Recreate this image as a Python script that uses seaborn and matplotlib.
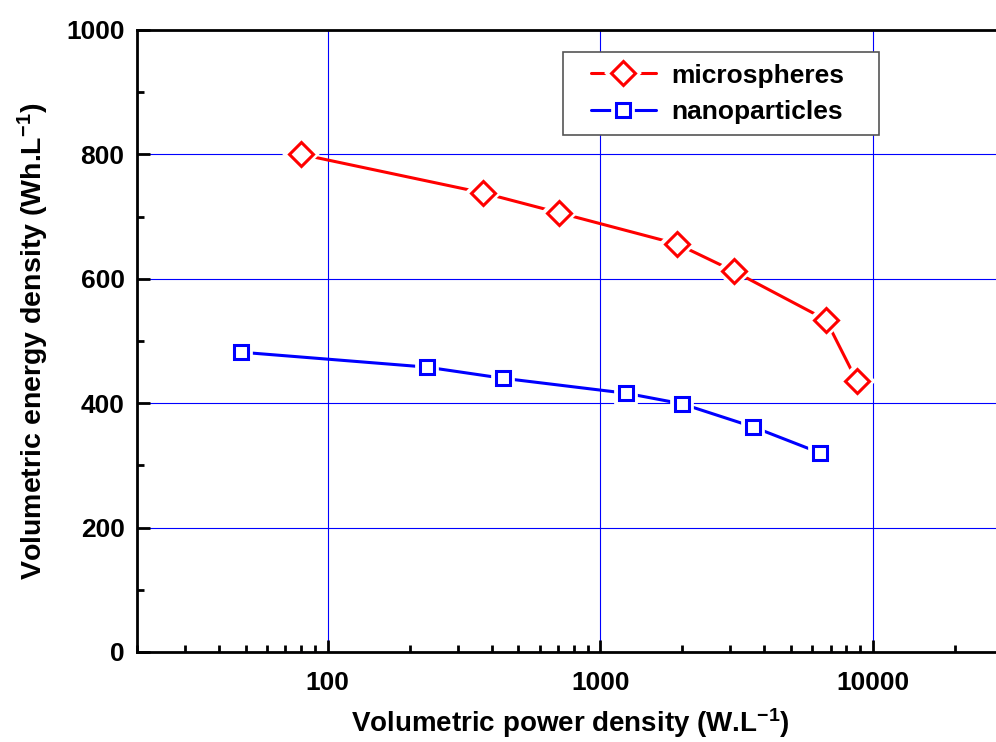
import numpy as np
import pandas as pd
import seaborn as sns
import matplotlib.pyplot as plt
from matplotlib.lines import Line2D
from matplotlib.legend_handler import HandlerTuple

# data
micro_power = [80, 373, 708, 1914, 3097, 6730, 8730]
micro_energy = [800, 738, 706, 656, 612, 534, 436]
nano_power = [48, 231, 441, 1245, 1995, 3630, 6400]
nano_energy = [482, 458, 440, 416, 399, 362, 320]
series_names = ['microspheres', 'nanoparticles']
y_ticks = [0, 200, 400, 600, 800, 1000]
x_ticks = [100, 1000, 10000]

sns.set_style('ticks')
plt.rcParams['font.family'] = ['Liberation Sans', 'DejaVu Sans']
plt.rcParams['font.weight'] = 'bold'
plt.rcParams['axes.labelweight'] = 'bold'
plt.rcParams['text.color'] = 'black'
plt.rcParams['axes.labelcolor'] = 'black'
plt.rcParams['xtick.color'] = 'black'
plt.rcParams['ytick.color'] = 'black'
plt.rcParams['mathtext.fontset'] = 'custom'
plt.rcParams['mathtext.rm'] = 'Liberation Sans:bold'
plt.rcParams['mathtext.default'] = 'rm'

df = pd.concat([
    pd.DataFrame({'power': micro_power, 'energy': micro_energy, 'sample': series_names[0]}),
    pd.DataFrame({'power': nano_power, 'energy': nano_energy, 'sample': series_names[1]}),
])

colors = {'microspheres': '#ff0000', 'nanoparticles': '#0000ff'}
marks = {'microspheres': 'D', 'nanoparticles': 's'}
msize = {'microspheres': 12, 'nanoparticles': 10}

fig = plt.figure(figsize=(9.96, 7.42), dpi=100)
ax = fig.add_axes([0.1376, 0.1213, 0.8694, 0.8383])

sns.lineplot(data=df, x='power', y='energy', hue='sample', palette=colors,
             linewidth=2.2, legend=False, ax=ax, zorder=3)

handles = []
for name in series_names:
    sub = df[df['sample'] == name]
    # white halo leaves a small gap between line and marker
    ax.plot(sub['power'], sub['energy'], ls='none', marker=marks[name],
            ms=msize[name], mfc='white', mec='white', mew=7, zorder=4)
    ax.plot(sub['power'], sub['energy'], ls='none', marker=marks[name],
            ms=msize[name], mfc='white', mec=colors[name], mew=2.2, zorder=5)
    h_line = Line2D([], [], color=colors[name], lw=2.2)
    h_halo = Line2D([], [], ls='none', marker=marks[name], ms=msize[name],
                    mfc='white', mec='white', mew=7)
    h_mark = Line2D([], [], ls='none', marker=marks[name], ms=msize[name],
                    mfc='white', mec=colors[name], mew=2.2)
    handles.append((h_line, h_halo, h_mark))

ax.set_xscale('log')
ax.set_xlim(20, 30000)
ax.set_ylim(0, 1000)
ax.set_xticks(x_ticks)
ax.set_xticklabels([str(t) for t in x_ticks])
ax.set_yticks(y_ticks)
ax.set_yticks(np.arange(100, 1000, 200), minor=True)

ax.grid(True, which='major', color='#0000ff', lw=0.8)
ax.set_axisbelow(True)
for s in ax.spines.values():
    s.set_linewidth(2)
    s.set_color('black')

ax.tick_params(which='major', direction='in', length=9, width=2,
               labelsize=19, pad=9, top=False, right=False)
ax.tick_params(axis='x', which='major', pad=14)
ax.tick_params(which='minor', direction='in', length=5, width=2,
               top=False, right=False)

ax.set_xlabel('Volumetric power density (W.L$^{-1}$)', fontsize=20, labelpad=8)
ax.set_ylabel('Volumetric energy density (Wh.L$^{-1}$)', fontsize=20.5, labelpad=11)

leg = ax.legend(handles, series_names,
                handler_map={tuple: HandlerTuple(ndivide=1, xpad=0.6)},
                loc='upper left', bbox_to_anchor=(0.492, 0.5, 0.365, 0.4646),
                mode='expand', borderaxespad=0,
                fontsize=19, frameon=True, fancybox=False, framealpha=1,
                edgecolor='#555555', handlelength=3.07, handletextpad=0.6,
                borderpad=0.44, labelspacing=0.46)
leg.get_frame().set_linewidth(1.2)

fig.savefig('out.png', dpi=100)
